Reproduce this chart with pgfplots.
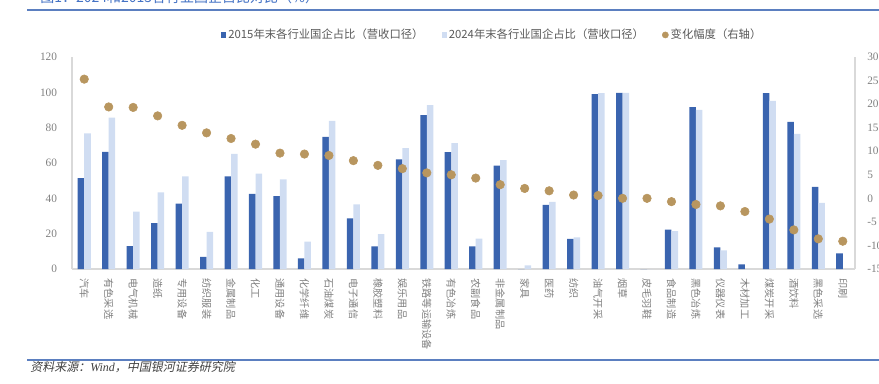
\documentclass[border=0pt]{standalone}
\usepackage{fontspec}
\usepackage{pgfplots}
\pgfplotsset{compat=1.18}
\usepackage{pgfplotstable}
\setmainfont{Liberation Serif}
\newfontfamily\cjk{Noto Sans CJK SC}
\newfontfamily\cjkit{Noto Sans CJK SC}[FakeSlant=0.2]
\definecolor{darkb}{HTML}{3A64AF}
\definecolor{lightb}{HTML}{D0DDF2}
\definecolor{dotc}{HTML}{B8965F}
\definecolor{axgray}{HTML}{D9D9D9}
\definecolor{numgray}{HTML}{808080}
\definecolor{lblgray}{HTML}{7F7F7F}
\definecolor{legtxt}{HTML}{595959}
\definecolor{rulec}{HTML}{5B7FC0}
\definecolor{titleb}{HTML}{4472C4}

\pgfplotstableread{
idx dark light chg
0  51.4 76.7 25.3
1  66.3 85.7 19.4
2  13.0 32.5 19.3
3  25.9 43.4 17.5
4  37.0 52.5 15.5
5  6.8  21.0 13.9
6  52.5 65.2 12.7
7  42.5 54.0 11.5
8  41.2 50.8 9.6
9  6.0  15.5 9.4
10 74.8 83.9 9.1
11 28.7 36.6 8.0
12 12.8 19.8 7.0
13 62.1 68.4 6.3
14 87.1 92.7 5.4
15 66.1 71.2 5.0
16 12.8 17.2 4.3
17 58.5 61.6 2.9
18 0    2.1  2.1
19 36.3 38.0 1.6
20 17.0 17.9 0.7
21 99.0 99.5 0.6
22 99.7 99.7 0.0
23 0    0    0.0
24 22.3 21.5 -0.7
25 91.6 90.1 -1.3
26 12.3 10.6 -1.6
27 2.6  0    -2.8
28 99.5 95.2 -4.4
29 83.3 76.5 -6.7
30 46.5 37.4 -8.6
31 8.9  0    -9.1
}\datatable

\begin{document}
\begin{tikzpicture}
\useasboundingbox (0,0) rectangle (659.25pt,287.25pt);
\clip (0,0) rectangle (659.25pt,287.25pt);
\begin{axis}[
  at={(54pt,85.5pt)}, anchor=south west,
  scale only axis, width=587.25pt, height=159pt,
  xmin=-0.5, xmax=31.5, ymin=0, ymax=120,
  ytick={0,20,...,120},
  xtick={0,...,31},
  xticklabels={汽车,有色采选,电气机械,造纸,专用设备,纺织服装,金属制品,化工,通用设备,化学纤维,石油煤炭,电子通信,橡胶塑料,娱乐用品,铁路等运输设备,有色冶炼,农副食品,非金属制品,家具,医药,纺织,油气开采,烟草,皮毛羽鞋,食品制造,黑色冶炼,仪器仪表,木材加工,煤炭开采,酒饮料,黑色采选,印刷},
  axis x line*=bottom, axis y line*=left,
  axis line style={axgray, line width=0.8pt, -},
  major tick length=0pt,
  xticklabel shift=7pt,
  yticklabel shift=11pt,
  x tick label style={rotate=-90, anchor=west, inner sep=0pt, font=\cjk\fontsize{7.6}{8}\selectfont, text=lblgray},
  y tick label style={anchor=east, inner sep=0pt, font=\fontsize{8.5}{10}\selectfont, text=numgray},
  /pgf/number format/assume math mode=true,
  ybar=0pt, bar width=4.9pt,
  legend columns=3,
  legend style={at={(axis description cs:0.19,1.104)}, anchor=west, draw=none, fill=none,
    inner sep=0pt, font=\cjk\fontsize{8.5}{10}\selectfont, text=legtxt,
    /tikz/every even column/.append style={column sep=12pt},
    nodes={inner sep=1.5pt}},
  clip=false,
]
\addplot[fill=darkb, draw=none, legend image code/.code={\fill[darkb] (0pt,-2pt) rectangle (4pt,2pt);}] table[x=idx, y=dark] {\datatable};
\addlegendentry{2015年末各行业国企占比（营收口径）}
\addplot[fill=lightb, draw=none, legend image code/.code={\fill[lightb] (0pt,-2pt) rectangle (4pt,2pt);}] table[x=idx, y=light] {\datatable};
\addlegendentry{2024年末各行业国企占比（营收口径）}
\addlegendimage{legend image code/.code={\fill[dotc] (2.2pt,0pt) circle (2.3pt);}}
\addlegendentry{变化幅度（右轴）}
\end{axis}
\begin{axis}[
  at={(54pt,85.5pt)}, anchor=south west,
  scale only axis, width=587.25pt, height=159pt,
  xmin=-0.5, xmax=31.5, ymin=-15, ymax=30,
  ytick={-15,-10,...,30},
  axis y line*=right, hide x axis,
  axis line style={axgray, line width=0.8pt, -},
  major tick length=0pt,
  yticklabel shift=9pt,
  y tick label style={anchor=west, inner sep=0pt, font=\fontsize{8.5}{10}\selectfont, text=numgray},
  /pgf/number format/assume math mode=true,
  clip=false,
]
\addplot[only marks, mark=*, mark size=3.2pt, draw=dotc, fill=dotc] table[x=idx, y=chg] {\datatable};
\end{axis}
\begin{scope}[x=0.75pt, y=0.75pt]
\draw[rulec, line width=0.8pt] (27,373) -- (879,373);
\draw[rulec, line width=0.8pt] (27,23) -- (879,23);
\node[anchor=base west, inner sep=0pt, font=\cjk\fontsize{10.5}{12}\selectfont, text=titleb] at (40,380) {图1：2024和2015各行业国企占比对比（\%）};
\node[anchor=base west, inner sep=0pt, font=\cjkit\fontsize{9}{11}\selectfont, text=black!75] at (30,12) {资料来源：{\rmfamily\itshape Wind}，中国银河证券研究院};
\end{scope}
\end{tikzpicture}
\end{document}
